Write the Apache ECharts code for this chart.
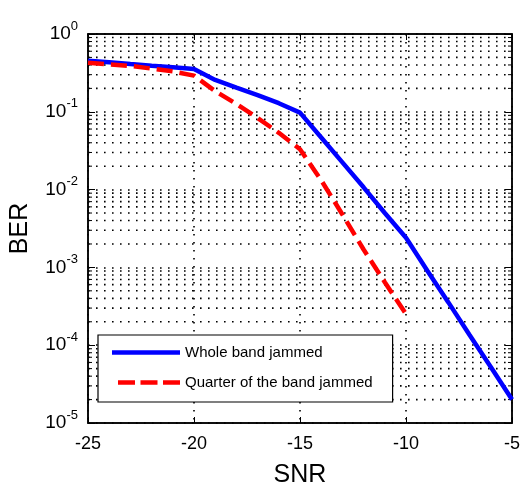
<!DOCTYPE html>
<html>
<head>
<meta charset="utf-8">
<script src="https://cdn.jsdelivr.net/npm/echarts@6/dist/echarts.min.js"></script>
<style>
html,body{margin:0;padding:0;background:#fff;}
#c{width:523px;height:493px;}
</style>
</head>
<body>
<div id="c"></div>
<script>
// ---- data ----
var snr = [-25,-24,-23,-22,-21,-20,-19,-18,-17,-16,-15,-14,-13,-12,-11,-10,-9,-8,-7,-6,-5];
var berWhole = [0.454,0.434,0.412,0.392,0.375,0.355,0.257,0.204,0.164,0.129,0.0977,0.0468,0.0224,0.0107,0.00501,0.0024,0.000912,0.000355,0.000135,0.0000525,0.00002];
var snrQuarter = [-25,-24,-23,-22,-21,-20,-19,-18,-17,-16,-15,-14,-13,-12,-11,-10];
var berQuarter = [0.427,0.407,0.389,0.359,0.331,0.292,0.184,0.126,0.0832,0.0537,0.0331,0.0132,0.00479,0.0017,0.000646,0.000251];
var seriesNames = ['Whole band jammed','Quarter of the band jammed'];
var xTicks = [-25,-20,-15,-10,-5];
var yExponents = [0,-1,-2,-3,-4,-5];
var minorMantissas = [2,3,4,5,6,7,8,9];

var xMin = -25, xMax = -5, yMin = 1e-5, yMax = 1;

var minorGrid = [];
for (var e = -5; e < 0; e++) {
  for (var i = 0; i < minorMantissas.length; i++) {
    minorGrid.push([xMin, minorMantissas[i] * Math.pow(10, e)]);
  }
}

function zip(xs, ys){ return xs.map(function(x,i){ return [x, ys[i]]; }); }

var chart = echarts.init(document.getElementById('c'), null, {renderer:'canvas'});
var dotted = {color:'#000', width:1.6, type:[1.6,6.4]};
var fontFam = 'Arial, "Liberation Sans", sans-serif';

var solidIcon = 'path://M0,0h68v4.5h-68z';
var dashIcon = 'path://M0,0L0.01,0L0.01,0.01Z M6,0h17v4.5h-17z M28.5,0h17v4.5h-17z M51,0h17v4.5h-17z';

var option = {
  backgroundColor:'#fff',
  animation:false,
  grid:{left:87, right:7, top:34, bottom:66, show:true, borderColor:'#000', borderWidth:1.5, backgroundColor:'transparent'},
  legend:{
    orient:'vertical', left:98, top:335,
    padding:[10,20,12,14],
    itemGap:15, itemWidth:68, itemHeight:14,
    backgroundColor:'#fff', borderColor:'#000', borderWidth:1.2, borderRadius:0,
    textStyle:{fontSize:15, color:'#000', fontFamily:fontFam},
    itemStyle:{borderWidth:0},
    data:[{name:seriesNames[0], icon:solidIcon},{name:seriesNames[1], icon:dashIcon}]
  },
  xAxis:[{
    type:'value', min:xMin, max:xMax, interval:5,
    name:'SNR', nameLocation:'middle', nameGap:40,
    nameTextStyle:{fontSize:25, color:'#000', fontFamily:fontFam},
    axisLine:{show:true, lineStyle:{color:'#000', width:1.5}},
    axisTick:{inside:true, length:6, lineStyle:{color:'#000'}},
    axisLabel:{fontSize:18, color:'#000', margin:12, fontFamily:fontFam, formatter:function(v){return String(v);}},
    splitLine:{show:true, lineStyle:dotted}
  },{
    type:'value', min:xMin, max:xMax, interval:5, position:'top',
    axisLine:{show:true, lineStyle:{color:'#000', width:1.5}},
    axisTick:{inside:true, length:6, lineStyle:{color:'#000'}},
    axisLabel:{show:false}, splitLine:{show:false}
  }],
  yAxis:[{
    type:'log', logBase:10, min:yMin, max:yMax,
    name:'BER', nameLocation:'middle', nameGap:55,
    nameTextStyle:{fontSize:25, color:'#000', fontFamily:fontFam},
    axisLine:{show:true, lineStyle:{color:'#000', width:1.5}},
    axisTick:{inside:true, length:7, lineStyle:{color:'#000'}},
    axisLabel:{
      margin:10, color:'#000',
      formatter:function(v){
        var ex = Math.round(Math.log(v)/Math.LN10);
        return '{b|10}{s|' + ex + '}';
      },
      rich:{
        b:{fontSize:19, color:'#000', fontFamily:fontFam},
        s:{fontSize:13, color:'#000', fontFamily:fontFam, padding:[0,0,16,0]}
      }
    },
    splitLine:{show:true, lineStyle:dotted}
  },{
    type:'log', logBase:10, min:yMin, max:yMax, position:'right',
    axisLine:{show:true, lineStyle:{color:'#000', width:1.5}},
    axisTick:{inside:true, length:7, lineStyle:{color:'#000'}},
    axisLabel:{show:false}, splitLine:{show:false}
  }],
  series:[
    {
      type:'custom', name:'minorGrid', silent:true, z:1,
      data:minorGrid, encode:{x:0, y:1},
      renderItem:function(params, api){
        var v = api.value(1);
        var a = api.coord([xMin, v]);
        var b = api.coord([xMax, v]);
        return {type:'group', children:[
          {type:'line', shape:{x1:a[0], y1:a[1], x2:b[0], y2:b[1]}, style:{stroke:'#000', lineWidth:1.6, lineDash:[1.6,6.4]}},
          {type:'line', shape:{x1:a[0], y1:a[1], x2:a[0]+4, y2:a[1]}, style:{stroke:'#000', lineWidth:1}},
          {type:'line', shape:{x1:b[0], y1:b[1], x2:b[0]-4, y2:b[1]}, style:{stroke:'#000', lineWidth:1}}
        ]};
      }
    },
    {
      type:'line', name:seriesNames[0], data:zip(snr, berWhole),
      symbol:'none', z:3,
      lineStyle:{color:'#0000ff', width:4.5},
      itemStyle:{color:'#0000ff'}
    },
    {
      type:'line', name:seriesNames[1], data:zip(snrQuarter, berQuarter),
      symbol:'none', z:4,
      lineStyle:{color:'#ff0000', width:4.5, type:[16,7]},
      itemStyle:{color:'#ff0000'}
    }
  ]
};
chart.setOption(option);
</script>
</body>
</html>
